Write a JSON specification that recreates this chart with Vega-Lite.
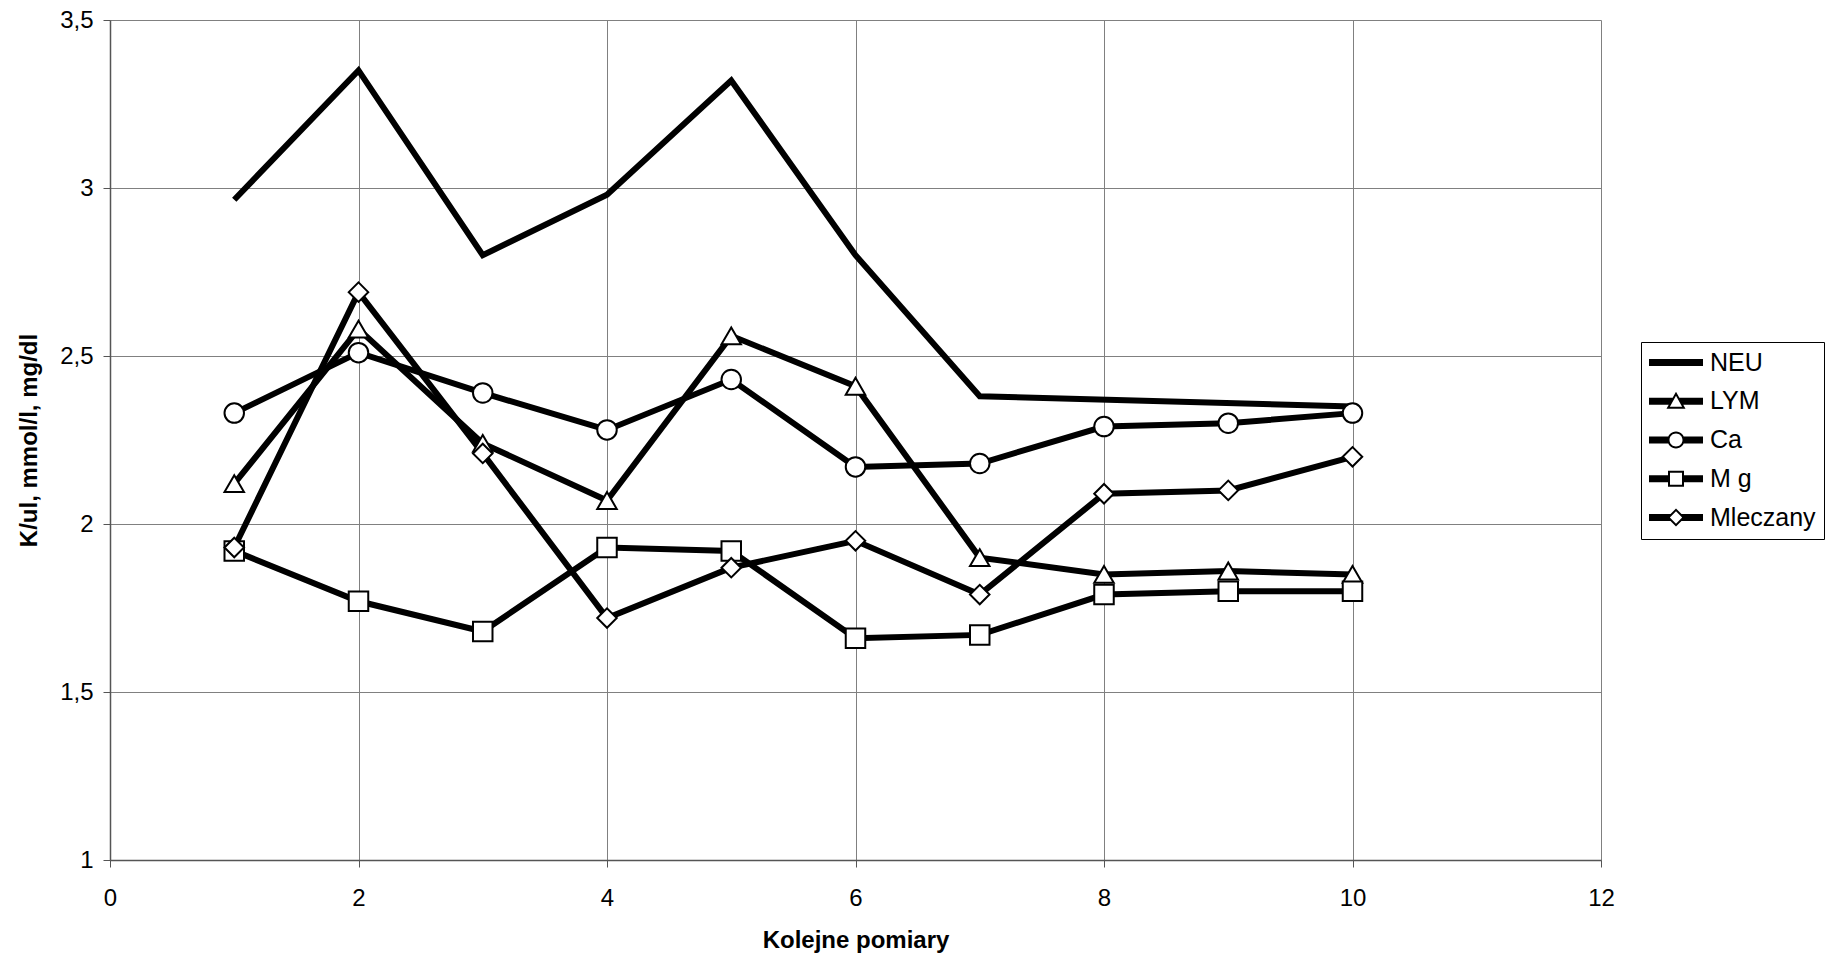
{
  "$schema": "https://vega.github.io/schema/vega-lite/v6.json",
  "width": 1491,
  "height": 840,
  "autosize": {"type": "none"},
  "padding": {"left": 110, "top": 20, "right": 224, "bottom": 98},
  "background": "white",
  "config": {
    "view": {"stroke": null},
    "font": "Liberation Sans",
    "axis": {
      "grid": true,
      "gridColor": "#808080",
      "gridWidth": 1,
      "domainColor": "#555555",
      "domainWidth": 1.5,
      "tickColor": "#555555",
      "tickSize": 7,
      "tickWidth": 1,
      "labelFontSize": 24,
      "labelColor": "black",
      "labelFont": "Liberation Sans",
      "titleFont": "Liberation Sans",
      "titleFontSize": 24,
      "titleFontWeight": "bold",
      "titleColor": "black",
      "labelOverlap": false
    }
  },
  "data": {
    "values": [
      {"pomiar": 1, "seria": "NEU", "wartosc": 2.965},
      {"pomiar": 2, "seria": "NEU", "wartosc": 3.35},
      {"pomiar": 3, "seria": "NEU", "wartosc": 2.80},
      {"pomiar": 4, "seria": "NEU", "wartosc": 2.98},
      {"pomiar": 5, "seria": "NEU", "wartosc": 3.32},
      {"pomiar": 6, "seria": "NEU", "wartosc": 2.80},
      {"pomiar": 7, "seria": "NEU", "wartosc": 2.38},
      {"pomiar": 10, "seria": "NEU", "wartosc": 2.35},

      {"pomiar": 1, "seria": "LYM", "wartosc": 2.12},
      {"pomiar": 2, "seria": "LYM", "wartosc": 2.58},
      {"pomiar": 3, "seria": "LYM", "wartosc": 2.24},
      {"pomiar": 4, "seria": "LYM", "wartosc": 2.07},
      {"pomiar": 5, "seria": "LYM", "wartosc": 2.56},
      {"pomiar": 6, "seria": "LYM", "wartosc": 2.41},
      {"pomiar": 7, "seria": "LYM", "wartosc": 1.90},
      {"pomiar": 8, "seria": "LYM", "wartosc": 1.85},
      {"pomiar": 9, "seria": "LYM", "wartosc": 1.86},
      {"pomiar": 10, "seria": "LYM", "wartosc": 1.85},

      {"pomiar": 1, "seria": "Ca", "wartosc": 2.33},
      {"pomiar": 2, "seria": "Ca", "wartosc": 2.51},
      {"pomiar": 3, "seria": "Ca", "wartosc": 2.39},
      {"pomiar": 4, "seria": "Ca", "wartosc": 2.28},
      {"pomiar": 5, "seria": "Ca", "wartosc": 2.43},
      {"pomiar": 6, "seria": "Ca", "wartosc": 2.17},
      {"pomiar": 7, "seria": "Ca", "wartosc": 2.18},
      {"pomiar": 8, "seria": "Ca", "wartosc": 2.29},
      {"pomiar": 9, "seria": "Ca", "wartosc": 2.30},
      {"pomiar": 10, "seria": "Ca", "wartosc": 2.33},

      {"pomiar": 1, "seria": "M g", "wartosc": 1.92},
      {"pomiar": 2, "seria": "M g", "wartosc": 1.77},
      {"pomiar": 3, "seria": "M g", "wartosc": 1.68},
      {"pomiar": 4, "seria": "M g", "wartosc": 1.93},
      {"pomiar": 5, "seria": "M g", "wartosc": 1.92},
      {"pomiar": 6, "seria": "M g", "wartosc": 1.66},
      {"pomiar": 7, "seria": "M g", "wartosc": 1.67},
      {"pomiar": 8, "seria": "M g", "wartosc": 1.79},
      {"pomiar": 9, "seria": "M g", "wartosc": 1.80},
      {"pomiar": 10, "seria": "M g", "wartosc": 1.80},

      {"pomiar": 1, "seria": "Mleczany", "wartosc": 1.93},
      {"pomiar": 2, "seria": "Mleczany", "wartosc": 2.69},
      {"pomiar": 3, "seria": "Mleczany", "wartosc": 2.21},
      {"pomiar": 4, "seria": "Mleczany", "wartosc": 1.72},
      {"pomiar": 5, "seria": "Mleczany", "wartosc": 1.87},
      {"pomiar": 6, "seria": "Mleczany", "wartosc": 1.95},
      {"pomiar": 7, "seria": "Mleczany", "wartosc": 1.79},
      {"pomiar": 8, "seria": "Mleczany", "wartosc": 2.09},
      {"pomiar": 9, "seria": "Mleczany", "wartosc": 2.10},
      {"pomiar": 10, "seria": "Mleczany", "wartosc": 2.20}
    ]
  },
  "encoding": {
    "x": {
      "field": "pomiar",
      "type": "quantitative",
      "scale": {"domain": [0, 12], "nice": false},
      "axis": {
        "values": [0, 2, 4, 6, 8, 10, 12],
        "labelFlush": false,
        "labelPadding": 19,
        "title": "Kolejne pomiary",
        "titleY": 87,
        "titleBaseline": "alphabetic"
      }
    },
    "y": {
      "field": "wartosc",
      "type": "quantitative",
      "scale": {"domain": [1, 3.5], "nice": false, "zero": false},
      "axis": {
        "values": [1, 1.5, 2, 2.5, 3, 3.5],
        "labelExpr": "replace(toString(datum.value), '.', ',')",
        "labelPadding": 10,
        "title": "K/ul, mmol/l, mg/dl",
        "titleX": -74,
        "titleY": 420,
        "titleBaseline": "alphabetic"
      }
    }
  },
  "resolve": {"scale": {"shape": "independent"}},
  "layer": [
    {
      "mark": {"type": "line", "color": "black", "strokeWidth": 6, "strokeJoin": "miter", "strokeCap": "butt"},
      "encoding": {
        "detail": {"field": "seria", "type": "nominal"}
      }
    },
    {
      "transform": [{"filter": "datum.seria !== 'NEU'"}],
      "mark": {"type": "point", "filled": true, "fill": "white", "stroke": "black", "strokeWidth": 2, "size": 380, "opacity": 1},
      "encoding": {
        "shape": {
          "field": "seria",
          "type": "nominal",
          "scale": {
            "domain": ["LYM", "Ca", "M g", "Mleczany"],
            "range": ["triangle-up", "circle", "square", "diamond"]
          },
          "legend": null
        }
      }
    },
    {
      "mark": {"type": "point", "filled": true, "fill": "black", "strokeWidth": 0, "size": 2916, "opacity": 0},
      "encoding": {
        "shape": {
          "field": "seria",
          "type": "nominal",
          "scale": {
            "domain": ["NEU", "LYM", "Ca", "M g", "Mleczany"],
            "range": [
              "M-1,-0.13H1V0.13H-1Z",
              "M-1,-0.13L-0.1,-0.13L-0.22,0.13L-1,0.13ZM0.1,-0.13L1,-0.13L1,0.13L0.22,0.13ZM0,-0.352L0.352,0.278L-0.352,0.278ZM0,-0.2L-0.226,0.204L0.226,0.204Z",
              "M-1,-0.13H-0.25V0.13H-1ZM0.25,-0.13H1V0.13H0.25ZM0.315,0A0.315,0.315,0,1,1,-0.315,0A0.315,0.315,0,1,1,0.315,0ZM0.241,0A0.241,0.241,0,1,0,-0.241,0A0.241,0.241,0,1,0,0.241,0Z",
              "M-1,-0.13H-0.26V0.13H-1ZM0.26,-0.13H1V0.13H0.26ZM-0.296,-0.296H0.296V0.296H-0.296ZM-0.222,-0.222V0.222H0.222V-0.222Z",
              "M-1,-0.13L-0.15,-0.13L-0.28,0L-0.15,0.13L-1,0.13ZM0.15,-0.13L1,-0.13L1,0.13L0.15,0.13L0.28,0ZM0,-0.333L0.333,0L0,0.333L-0.333,0ZM0,-0.228L-0.228,0L0,0.228L0.228,0Z"
            ]
          },
          "legend": {
            "title": null,
            "orient": "none",
            "legendX": 1531,
            "legendY": 322,
            "padding": 8,
            "fillColor": "white",
            "strokeColor": "black",
            "symbolSize": 2916,
            "symbolFillColor": "black",
            "symbolStrokeColor": "transparent",
            "symbolStrokeWidth": 0,
            "symbolOpacity": 1,
            "clipHeight": 25,
            "rowPadding": 12.75,
            "labelOffset": 7,
            "labelFontSize": 25,
            "labelFont": "Liberation Sans",
            "labelColor": "black"
          }
        }
      }
    }
  ]
}
